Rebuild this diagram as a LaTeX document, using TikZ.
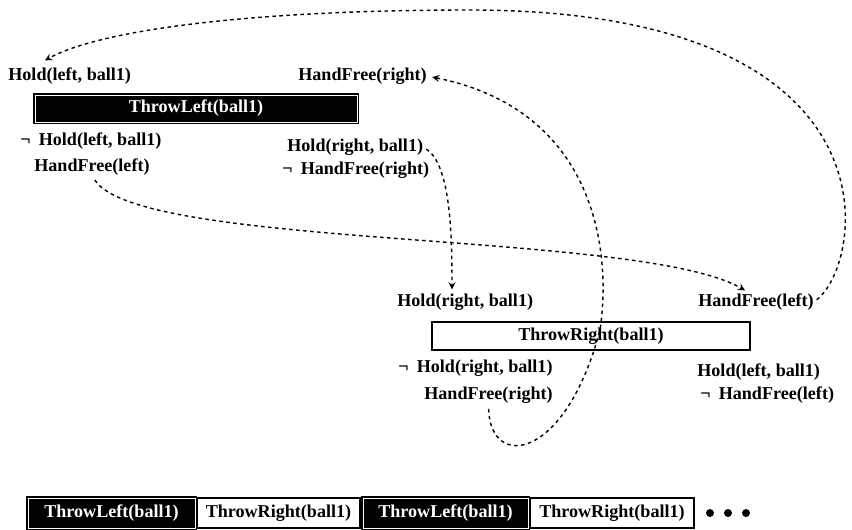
\documentclass[tikz,border=0pt]{standalone}
\usepackage{fontspec}
\setmainfont{Liberation Serif}
\usetikzlibrary{calc}

\begin{document}
\begin{tikzpicture}[x=0.02cm, y=-0.02cm, >=stealth,
  fact/.style={anchor=west, inner sep=0pt, font=\fontsize{10.3}{12}\bfseries},
  dep/.style={->, line width=0.8pt, dash pattern=on 2pt off 2pt},
  actw/.style={draw, line width=0.8pt, fill=white, font=\fontsize{10.3}{12}\bfseries, inner sep=0pt},
  actb/.style={draw, fill=black, text=white, double=white, double distance=0.5pt,
    line width=0.8pt, font=\fontsize{10.3}{12}\bfseries, inner sep=0pt}]
  \useasboundingbox (0,0) rectangle (852,529);
  % ThrowLeft step
  \node[fact] (hl1) at (8,76) {Hold(left, ball1)};
  \node[fact] (hfR1) at (298,76) {HandFree(right)};
  \node[actb, minimum width=6.44cm, minimum height=0.54cm] (tl) at (196,108.5) {ThrowLeft(ball1)};
  \node[fact] (nhl1) at (20,141) {¬\hspace{0.45em}Hold(left, ball1)};
  \node[fact] (hfL1) at (34,167) {HandFree(left)};
  \node[fact] (hr1) at (287,147) {Hold(right, ball1)};
  \node[fact] (nhfR1) at (282,170) {¬\hspace{0.45em}HandFree(right)};
  % ThrowRight step
  \node[fact] (hr2) at (397,302) {Hold(right, ball1)};
  \node[fact] (hfL2) at (698,302) {HandFree(left)};
  \node[actw, minimum width=6.36cm, minimum height=0.56cm] (tr) at (591,336) {ThrowRight(ball1)};
  \node[fact] (nhr2) at (398,368) {¬\hspace{0.45em}Hold(right, ball1)};
  \node[fact] (hfR2) at (424,395) {HandFree(right)};
  \node[fact] (hl2) at (697,372) {Hold(left, ball1)};
  \node[fact] (nhfL2) at (700,395) {¬\hspace{0.45em}HandFree(left)};
  % links
  \draw[dep, shorten <=2pt] (hfL2.east) .. controls (865,262) and (905,10) .. (470,10)
    .. controls (250,10) and (100,30) .. ($(hl1.north west)+(37,-7)$);
  \draw[dep, shorten <=2pt] (hr1.east) .. controls (450,165) and (452,230) .. ($(hr2.north west)+(55,-4)$);
  \draw[dep, shorten <=3pt] (hfL1.south) .. controls (140,250) and (640,230) .. ($(hfL2.north west)+(47,-3)$);
  \draw[dep, shorten <=3pt, shorten >=3pt] (hfR2.south) .. controls (490,470) and (565,462) .. (600,330)
    .. controls (612,250) and (595,110) .. (hfR1.east);
  % plan sequence
  \node[actb, minimum width=3.34cm, minimum height=0.6cm] (s1) at (111.5,513) {ThrowLeft(ball1)};
  \node[actw, minimum width=3.26cm, minimum height=0.6cm] (s2) at (278.5,513) {ThrowRight(ball1)};
  \node[actb, minimum width=3.30cm, minimum height=0.6cm] (s3) at (445.5,513) {ThrowLeft(ball1)};
  \node[actw, minimum width=3.28cm, minimum height=0.6cm] (s4) at (612,513) {ThrowRight(ball1)};
  \foreach \i/\x in {1/710,2/728,3/746}
    \node[circle, fill, inner sep=0pt, minimum size=0.16cm] (d\i) at (\x,513) {};
\end{tikzpicture}
\end{document}
